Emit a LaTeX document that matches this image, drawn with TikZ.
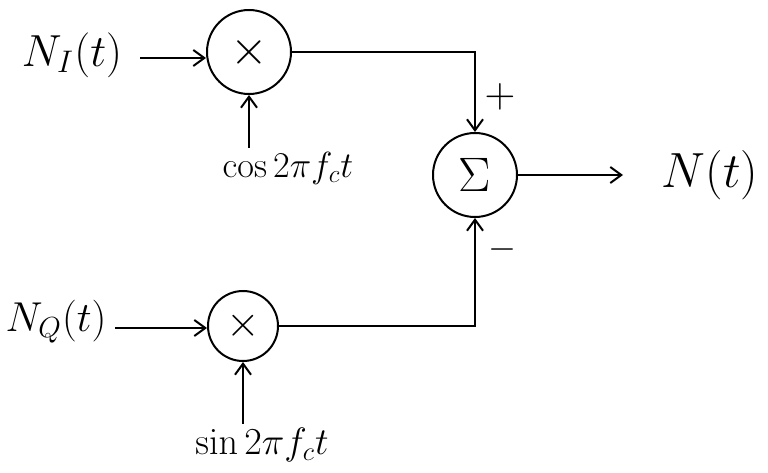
\documentclass[tikz,border=0pt]{standalone}
\usetikzlibrary{arrows.meta}
\begin{document}
\begin{tikzpicture}[x=1pt,y=-1pt,
  line width=2pt,
  arr/.style={-{Straight Barb[length=11pt,width=16pt,line width=2pt]}},
  opc/.style={circle,draw,line width=2pt,inner sep=0pt},
  lbl/.style={inner sep=1pt,font=\LARGE,scale=2.6},
  slbl/.style={inner sep=1pt,font=\LARGE,scale=2.1}]
\useasboundingbox (0,0) rectangle (768,473);
% nodes
\node[opc,minimum size=84pt] (m1) at (249,52) {\scalebox{2.8}{\LARGE$\times$}};
\node[opc,minimum size=84pt] (s) at (475,175) {\scalebox{2.8}{\LARGE$\Sigma$}};
\node[opc,minimum size=70pt] (m2) at (243,326) {\scalebox{2.5}{\LARGE$\times$}};
\node[lbl] (NI) at (72,55) {$N_I(t)$};
\node[lbl,scale=0.93] (NQ) at (56,322) {$N_Q(t)$};
\node[lbl,scale=1.1] (N) at (710,175) {$N(t)$};
\node[slbl] (c1) at (288,168) {$\cos 2\pi f_c t$};
\node[slbl,scale=1.05] (c2) at (262,445) {$\sin 2\pi f_c t$};
\node[lbl,scale=0.95] (plus) at (500,97) {$+$};
\node[lbl,scale=0.8] (minus) at (502,250) {$-$};
% connectors
\draw[arr] (140,58) coordinate (a1) -- (a1 -| m1.west);
\draw[arr] (m1.south |- c1.north) -- (m1.south);
\draw[arr] (m1.east) -| (s.north);
\draw[arr] (115,328) coordinate (a2) -- (a2 -| m2.west);
\draw[arr] (m2.south |- c2.north) -- (m2.south);
\draw[arr] (m2.east) -| (s.south);
\draw[arr] (s.east) -- ++(105,0) coordinate (o);
\end{tikzpicture}
\end{document}
